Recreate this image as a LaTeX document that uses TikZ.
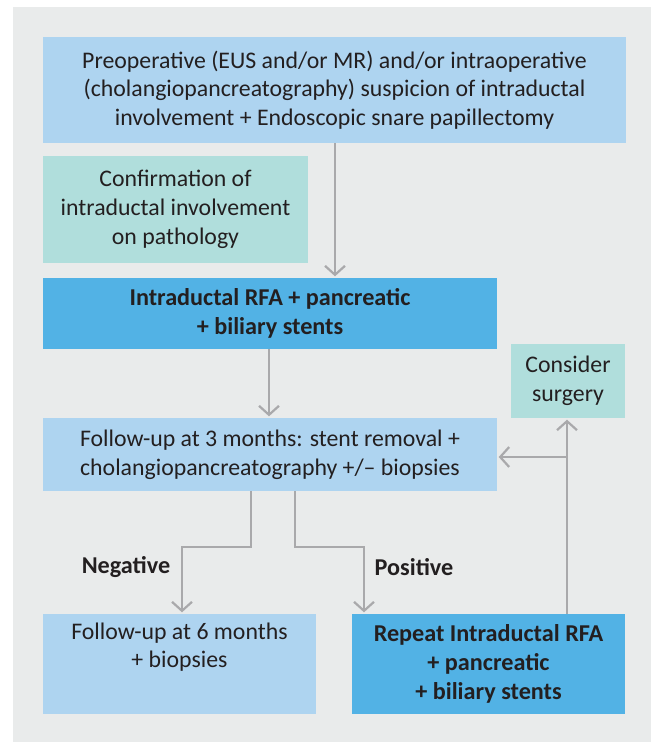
\documentclass[tikz,border=0pt]{standalone}
\usepackage{fontspec}
\setmainfont{Carlito}
\usetikzlibrary{arrows.meta}
\definecolor{bgcol}{HTML}{E9EBEB}
\definecolor{lightblue}{HTML}{AED4F0}
\definecolor{midblue}{HTML}{52B2E5}
\definecolor{tealbox}{HTML}{B0DEDC}
\definecolor{arrowgray}{HTML}{A9A9AB}
\definecolor{txt}{HTML}{231F20}
\begin{document}
\begin{tikzpicture}[x=1pt,y=-1pt,
  box/.style={rectangle, inner sep=0pt, align=center, text=txt,
    font=\fontsize{23.8}{28.7}\selectfont},
  lbox/.style={box, fill=lightblue},
  mbox/.style={box, fill=midblue, font=\fontsize{24.2}{28.7}\selectfont\bfseries},
  tbox/.style={box, fill=tealbox},
  lab/.style={text=txt, font=\fontsize{24.2}{28}\selectfont\bfseries, inner sep=0pt},
  arr/.style={draw=arrowgray, line width=2.2pt, shorten >=1.5pt,
    -{Straight Barb[length=9pt,width=20pt,line width=2.2pt]}}
]
\useasboundingbox (0,0) rectangle (651,742);
\fill[bgcol] (13,7) rectangle (651,742);

\node[lbox, minimum width=583pt, minimum height=106pt] (pre) at (334.5,90)
  {Preoperative (EUS and/or MR) and/or intraoperative\\
   (cholangiopancreatography) suspicion of intraductal\\
   involvement + Endoscopic snare papillectomy};
\node[tbox, minimum width=265pt, minimum height=107pt] (conf) at (175.5,209.5)
  {Confirmation of\\ intraductal involvement\\ on pathology};
\node[mbox, minimum width=454pt, minimum height=71pt] (rfa) at (270,313.5)
  {Intraductal RFA + pancreatic\\ + biliary stents};
\node[lbox, minimum width=454pt, minimum height=73pt] (fu3) at (270,454.5)
  {Follow-up at 3 months: stent removal +\\ cholangiopancreatography +/– biopsies};
\node[tbox, minimum width=114pt, minimum height=74pt] (surg) at (568,381)
  {Consider\\ surgery};
\node[lbox, minimum width=273pt, minimum height=100pt] (fu6) at (179.5,664)
  {Follow-up at 6 months\\ + biopsies\\ \strut};
\node[mbox, minimum width=273pt, minimum height=100pt] (rep) at (488.5,664)
  {Repeat Intraductal RFA\\ + pancreatic\\ + biliary stents};

\node[lab] (neg) at (126,567) {Negative};
\node[lab] (pos) at (414,567) {Positive};

\coordinate (c1) at (335,0);
\coordinate (c2) at (269,0);
\coordinate (na) at (251,547);
\coordinate (nb) at (182,547);
\coordinate (pa) at (295,547);
\coordinate (pb) at (364,547);
\coordinate (s1) at (567,0);
\coordinate (sj) at (567,457);

\draw[arr] (pre.south -| c1) -- (rfa.north -| c1);
\draw[arr] (rfa.south -| c2) -- (fu3.north -| c2);
\draw[arr] (fu3.south -| na) -- (na) -- (nb) -- (fu6.north -| nb);
\draw[arr] (fu3.south -| pa) -- (pa) -- (pb) -- (rep.north -| pb);
\draw[arr] (rep.north -| s1) -- (surg.south -| s1);
\draw[arr] (sj) -- (fu3.east |- sj);
\end{tikzpicture}
\end{document}
